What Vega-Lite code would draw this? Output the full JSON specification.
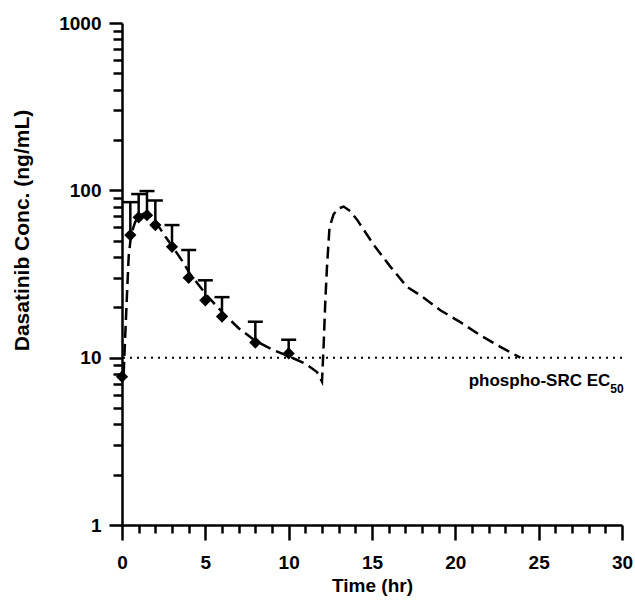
{
  "$schema": "https://vega.github.io/schema/vega-lite/v6.json",
  "autosize": {"type": "none"},
  "padding": {"left": 122, "top": 23, "right": 13, "bottom": 78},
  "width": 500,
  "height": 502,
  "config": {
    "view": {"stroke": null},
    "font": "Liberation Sans",
    "axis": {"grid": false, "domainColor": "black", "tickColor": "black", "labelColor": "black", "titleColor": "black"}
  },
  "datasets": {
    "model": [
      {"t": 0.1, "conc": 8}, {"t": 0.2, "conc": 14}, {"t": 0.3, "conc": 24}, {"t": 0.4, "conc": 40},
      {"t": 0.55, "conc": 55}, {"t": 0.8, "conc": 65}, {"t": 1.1, "conc": 71}, {"t": 1.4, "conc": 73},
      {"t": 1.7, "conc": 71}, {"t": 2.1, "conc": 63}, {"t": 2.6, "conc": 53}, {"t": 3.1, "conc": 45},
      {"t": 3.6, "conc": 38}, {"t": 4.1, "conc": 31.5}, {"t": 5.1, "conc": 23.5}, {"t": 6.1, "conc": 18.3},
      {"t": 7.0, "conc": 15}, {"t": 8.0, "conc": 12.6}, {"t": 9.0, "conc": 11.2}, {"t": 10.0, "conc": 10.2},
      {"t": 11.0, "conc": 9.2}, {"t": 11.7, "conc": 8.2}, {"t": 12.0, "conc": 7.2},
      {"t": 12.1, "conc": 12}, {"t": 12.2, "conc": 22}, {"t": 12.3, "conc": 35}, {"t": 12.45, "conc": 60},
      {"t": 12.7, "conc": 72}, {"t": 13.0, "conc": 78}, {"t": 13.3, "conc": 80}, {"t": 13.7, "conc": 75},
      {"t": 14.1, "conc": 66.8}, {"t": 15.1, "conc": 47.3}, {"t": 16.1, "conc": 35}, {"t": 17.1, "conc": 26.5},
      {"t": 17.9, "conc": 23.6}, {"t": 19.1, "conc": 19.2}, {"t": 20.3, "conc": 16.3}, {"t": 21.5, "conc": 13.6},
      {"t": 22.7, "conc": 11.6}, {"t": 23.9, "conc": 10.0}
    ],
    "obs": [
      {"t": 0, "conc": 7.7},
      {"t": 0.5, "conc": 54, "upper": 85},
      {"t": 1, "conc": 69, "upper": 95},
      {"t": 1.5, "conc": 71, "upper": 99},
      {"t": 2, "conc": 62, "upper": 87},
      {"t": 3, "conc": 46, "upper": 62},
      {"t": 4, "conc": 30, "upper": 44},
      {"t": 5, "conc": 22, "upper": 29},
      {"t": 6, "conc": 17.6, "upper": 23},
      {"t": 8, "conc": 12.3, "upper": 16.4},
      {"t": 10, "conc": 10.6, "upper": 12.8}
    ],
    "ec50": [{"conc": 10}],
    "labels": [
      {"t": 20.8, "conc": 7.3, "text": "phospho-SRC EC", "kind": "main"},
      {"t": 29.3, "conc": 6.5, "text": "50", "kind": "sub"}
    ]
  },
  "encoding": {
    "x": {
      "field": "t", "type": "quantitative",
      "scale": {"domain": [0, 30], "nice": false, "zero": false},
      "axis": {
        "title": "Time (hr)",
        "values": [0,1,2,3,4,5,6,7,8,9,10,11,12,13,14,15,16,17,18,19,20,21,22,23,24,25,26,27,28,29,30],
        "labelExpr": "datum.value % 5 === 0 ? datum.label : ''",
        "labelOverlap": false,
        "labelFlush": false,
        "tickSize": {"condition": {"test": "datum.value % 5 === 0", "value": 15}, "value": 8},
        "tickWidth": 2.5,
        "domainWidth": 2.5,
        "labelFontSize": 19,
        "labelFontWeight": "bold",
        "labelPadding": 13,
        "titleFontSize": 19,
        "titleFontWeight": "bold",
        "titlePadding": 4
      }
    },
    "y": {
      "field": "conc", "type": "quantitative",
      "scale": {"type": "log", "domain": [1, 1000], "nice": false},
      "axis": {
        "title": "Dasatinib Conc. (ng/mL)",
        "values": [1,2,3,4,5,6,7,8,9,10,20,30,40,50,60,70,80,90,100,200,300,400,500,600,700,800,900,1000],
        "format": "d",
        "labelExpr": "indexof([1,10,100,1000], datum.value) >= 0 ? datum.label : ''",
        "labelOverlap": false,
        "labelBound": false,
        "tickSize": {"condition": {"test": "indexof([1,10,100,1000], datum.value) >= 0", "value": 13}, "value": 9},
        "tickWidth": 2.5,
        "domainWidth": 2.5,
        "labelFontSize": 19,
        "labelFontWeight": "bold",
        "labelPadding": 8,
        "titleFontSize": 21,
        "titleFontWeight": "bold",
        "titleBaseline": "middle",
        "titleX": -100,
        "titleY": 207
      }
    }
  },
  "layer": [
    {
      "data": {"name": "ec50"},
      "mark": {"type": "rule", "strokeDash": [2, 5], "strokeWidth": 2, "color": "black"},
      "encoding": {"x": null}
    },
    {
      "data": {"name": "model"},
      "mark": {"type": "line", "strokeDash": [12, 6], "strokeWidth": 2.5, "color": "black"}
    },
    {
      "data": {"name": "obs"},
      "transform": [{"filter": "datum.upper != null"}],
      "mark": {"type": "rule", "strokeWidth": 2.5, "color": "black"},
      "encoding": {"y2": {"field": "upper"}}
    },
    {
      "data": {"name": "obs"},
      "transform": [{"filter": "datum.upper != null"}],
      "mark": {"type": "tick", "orient": "horizontal", "size": 15, "thickness": 2.5, "color": "black", "opacity": 1},
      "encoding": {"y": {"field": "upper", "type": "quantitative"}}
    },
    {
      "data": {"name": "obs"},
      "mark": {"type": "point", "shape": "diamond", "filled": true, "size": 150, "color": "black", "opacity": 1}
    },
    {
      "data": {"name": "labels"},
      "transform": [{"filter": "datum.kind === 'main'"}],
      "mark": {"type": "text", "align": "left", "baseline": "middle", "fontSize": 17, "fontWeight": "bold", "color": "black"},
      "encoding": {"text": {"field": "text"}}
    },
    {
      "data": {"name": "labels"},
      "transform": [{"filter": "datum.kind === 'sub'"}],
      "mark": {"type": "text", "align": "left", "baseline": "middle", "fontSize": 12, "fontWeight": "bold", "color": "black"},
      "encoding": {"text": {"field": "text"}}
    }
  ]
}
